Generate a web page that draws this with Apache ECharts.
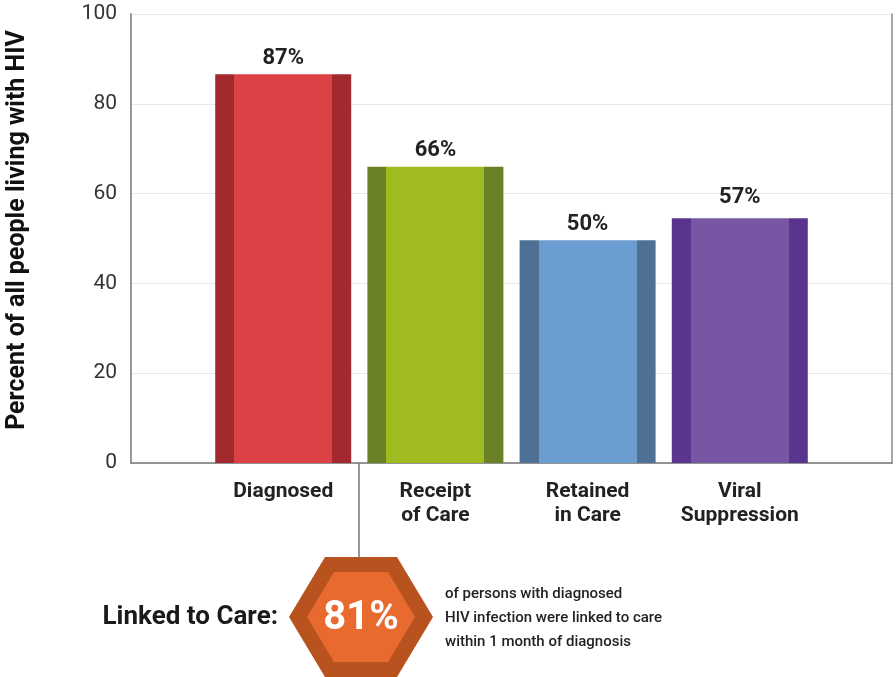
<!DOCTYPE html>
<html>
<head>
<meta charset="utf-8">
<script src="https://cdn.jsdelivr.net/npm/echarts@6/dist/echarts.min.js"></script>
<style>
html,body{margin:0;padding:0;background:#fff;}
#chart{width:896px;height:677px;}
</style>
</head>
<body>
<div id="chart"></div>
<script>
// ---- data ----
const categories = ['Diagnosed', 'Receipt\nof Care', 'Retained\nin Care', 'Viral\nSuppression'];
const values = [86.6, 66.0, 49.6, 54.5];
const valueLabels = ['87%', '66%', '50%', '57%'];
const yTicks = [0, 20, 40, 60, 80, 100];
const yTitle = 'Percent of all people living with HIV';
const lightColors = ['#dc4145', '#a0bb1f', '#6b9dd0', '#7757a3'];
const darkColors = ['#a22a2f', '#6b8125', '#4e7094', '#5a3590'];
const linkedValue = '81%';
const linkedNote = ['of persons with diagnosed', 'HIV infection were linked to care', 'within 1 month of diagnosis'];

const FONT = 'Roboto, "Liberation Sans", sans-serif';

function stripGrad(light, dark) {
  const s = 0.14;
  return new echarts.graphic.LinearGradient(0, 0, 1, 0, [
    {offset: 0, color: dark}, {offset: s, color: dark},
    {offset: s, color: light}, {offset: 1 - s, color: light},
    {offset: 1 - s, color: dark}, {offset: 1, color: dark}
  ]);
}

const chart = echarts.init(document.getElementById('chart'));
const option = {
  animation: false,
  backgroundColor: '#fff',
  grid: {left: 131, right: 4, top: 14, bottom: 214},
  xAxis: {
    type: 'value', min: 0, max: categories.length + 1, interval: 1,
    axisLine: {show: true, onZero: false, lineStyle: {color: '#777', width: 1.5}},
    axisTick: {show: false},
    splitLine: {show: false},
    axisLabel: {
      margin: 17,
      color: '#222', fontFamily: FONT, fontWeight: 'bold', fontSize: 21, lineHeight: 24,
      formatter: v => (v >= 1 && v <= categories.length) ? categories[v - 1] : ''
    }
  },
  yAxis: [{
    type: 'value', min: 0, max: 100, interval: 20,
    axisLine: {show: true, lineStyle: {color: '#999', width: 2}},
    axisTick: {show: false},
    axisLabel: {margin: 14, color: '#333', fontFamily: FONT, fontSize: 21,
      formatter: v => yTicks.includes(v) ? String(v) : ''},
    splitLine: {show: true, lineStyle: {color: '#e8e8e8', width: 1.2}}
  }, {
    type: 'value', min: 0, max: 100, interval: 20, position: 'right',
    axisLine: {show: true, lineStyle: {color: '#888', width: 1.5}},
    axisTick: {show: false}, axisLabel: {show: false}, splitLine: {show: false}
  }],
  series: [{
    type: 'bar',
    barWidth: 136,
    data: categories.map((c, i) => ({
      value: [i + 1, values[i]],
      itemStyle: {color: stripGrad(lightColors[i], darkColors[i])},
      label: {formatter: valueLabels[i], distance: i === 3 ? 10 : 5}
    })),
    label: {show: true, position: 'top', color: '#222', fontFamily: FONT, fontWeight: 'bold', fontSize: 22}
  }],
  graphic: [
    {type: 'text', x: 18, y: 230, rotation: Math.PI / 2,
      style: {text: yTitle, fill: '#111', font: 'bold 25px ' + FONT, align: 'center', verticalAlign: 'middle'}},
    {type: 'line', shape: {x1: 359, y1: 463, x2: 359, y2: 558}, style: {stroke: '#777', lineWidth: 1.5}, z: 1},
    {type: 'polygon', shape: {points: [[289,617],[325,557],[397,557],[433,617],[397,677],[325,677]]},
      style: {fill: '#b8521f'}},
    {type: 'polygon', shape: {points: [[307,617],[334,572],[388,572],[415,617],[388,662],[334,662]]},
      style: {fill: '#e86a2e'}},
    {type: 'text', x: 361, y: 619, style: {text: linkedValue, fill: '#fff', font: 'bold 40px ' + FONT, align: 'center', verticalAlign: 'middle'}},
    {type: 'text', x: 278, y: 617, style: {text: 'Linked to Care:', fill: '#1a1a1a', font: 'bold 26px ' + FONT, align: 'right', verticalAlign: 'middle'}},
    {type: 'text', x: 445, y: 618, style: {text: linkedNote.join('\n'), fill: '#222', font: '500 15px ' + FONT, lineHeight: 24, align: 'left', verticalAlign: 'middle'}}
  ]
};
chart.setOption(option);
</script>
</body>
</html>
